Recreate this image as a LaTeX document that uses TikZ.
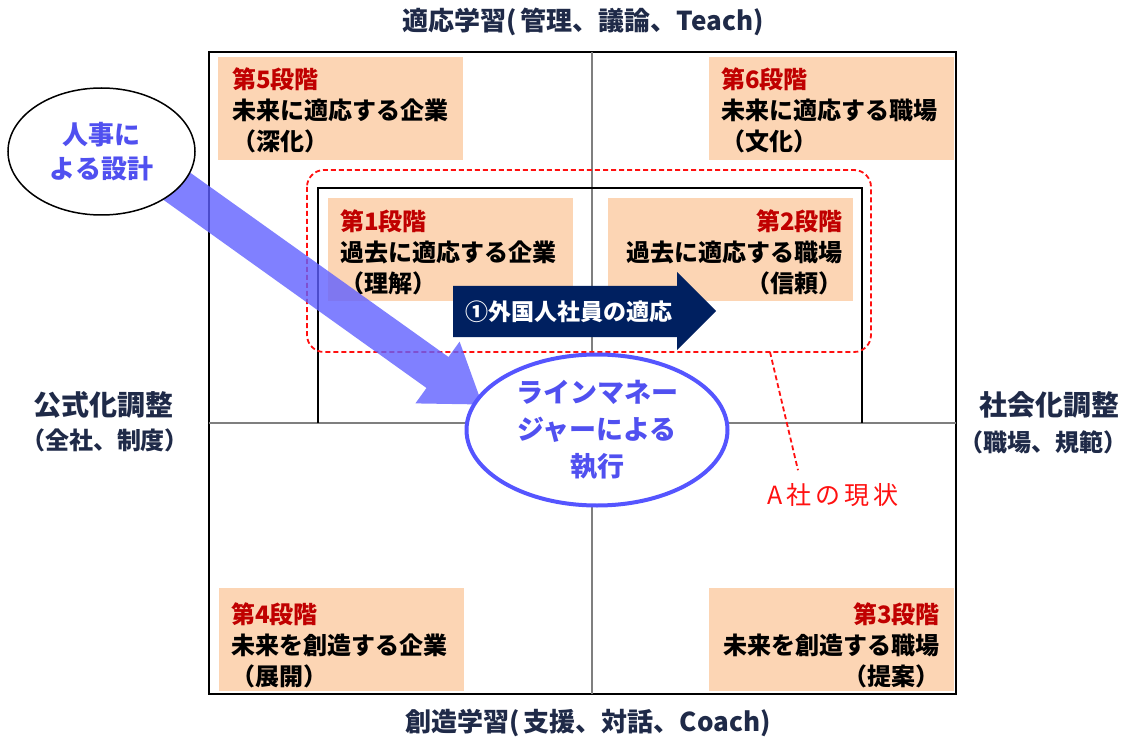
\documentclass[tikz,border=0pt]{standalone}
\usepackage{fontspec}
\setmainfont{Noto Sans CJK JP}
\usetikzlibrary{shapes.geometric,calc}
\definecolor{peach}{HTML}{FCD5B4}
\definecolor{stagered}{HTML}{C00000}
\definecolor{navyfill}{HTML}{002060}
\definecolor{arrowblue}{HTML}{6060FF}
\definecolor{ellblue}{HTML}{5555FF}
\definecolor{bluetext}{HTML}{5050F0}
\definecolor{labelnavy}{HTML}{1F2A48}
\definecolor{gridgray}{HTML}{7F7F7F}
\definecolor{dashred}{HTML}{FF1010}
\newcommand\myfs[2]{\fontsize{#1}{#2}\selectfont}
\newcommand\stg[1]{\textcolor{stagered}{#1}}
\begin{document}
\begin{tikzpicture}[x=1pt,y=-1pt,
  stagebox/.style={fill=peach, draw=none, anchor=north west, inner sep=0, minimum width=245, minimum height=103},
  stagetext/.style={inner sep=0, font=\bfseries\myfs{24}{31}, text=black},
  axislabel/.style={inner sep=0, text=labelnavy},
  reddash/.style={draw=dashred, line width=1.8, dash pattern=on 5pt off 3pt},
  ellipsenode/.style={ellipse, inner sep=0, fill=white, text=bluetext, align=center}]
\useasboundingbox (0,0) rectangle (1125,746);

% outer frame and cross
\draw[black, line width=2.5] (209,52) rectangle (956,694);
\draw[gridgray, line width=2] (592,52) -- (592,694);
\draw[gridgray, line width=2] (209,423) -- (956,423);

% stage boxes
\node[stagebox] (b5) at (218,57) {};
\node[stagebox] (b6) at (709,57) {};
\node[stagebox] (b1) at (328,198) {};
\node[stagebox] (b2) at (608,198) {};
\node[stagebox] (b4) at (219,588) {};
\node[stagebox] (b3) at (709,588) {};

\node[stagetext, anchor=west, align=left] (t5) at (232,110) {\stg{第5段階}\\未来に適応する企業\\（深化）};
\node[stagetext, anchor=west, align=left] (t6) at (721,110) {\stg{第6段階}\\未来に適応する職場\\（文化）};
\node[stagetext, anchor=west, align=left] (t1) at (340,252) {\stg{第1段階}\\過去に適応する企業\\（理解）};
\node[stagetext, anchor=east, align=right] (t2) at (843,252) {\stg{第2段階}\\過去に適応する職場\\（信頼）};
\node[stagetext, anchor=west, align=left] (t4) at (231,645) {\stg{第4段階}\\未来を創造する企業\\（展開）};
\node[stagetext, anchor=east, align=right] (t3) at (940,645) {\stg{第3段階}\\未来を創造する職場\\（提案）};

% inner rectangle and dashed region
\draw[black, line width=2.2] (318,423) -- (318,188) -- (862,188) -- (862,423);
\draw[reddash, rounded corners=17] (307,170) rectangle (871,352);

% navy arrow
\fill[navyfill] (453,286) -- (677,286) -- (677,272) -- (716,311) -- (677,350) -- (677,337) -- (453,337) -- cycle;
\node[inner sep=0, text=white, font=\bfseries\myfs{23}{28}] (nav) at (569,312) {①外国人社員の適応};

% blue arrow from e1 to e2
\fill[arrowblue, fill opacity=0.8] (117.5,167) -- (426.5,388) -- (415.4,403.4) -- (482.3,404.5) -- (459.6,341.6) -- (448.5,357) -- (139.5,136.5) -- cycle;

% ellipses
\node[ellipsenode, draw=black, line width=1.5, minimum width=187, minimum height=127, font=\bfseries\myfs{26}{34}] (e1) at (101.5,151.5) {人事に\\よる設計};
\node[ellipsenode, draw=ellblue, line width=4, minimum width=261, minimum height=151, font=\bfseries\myfs{27}{37}] (e2) at (597,430) {ラインマネー\\ジャーによる\\執行};

% current state label
\coordinate (lead) at (770,352);
\node[inner sep=3, text=dashred, font=\myfs{25}{30}] (cur) at (833,495) {A\kern4pt 社\kern4pt の\kern4pt 現\kern4pt 状};
\draw[reddash] (lead) -- ($(cur.north)+(-35,-10)$);

% axis labels
\node[axislabel, font=\bfseries\myfs{26}{30}] (ttop) at (583,22) {適応学習(\,管理、議論、Teach)};
\node[axislabel, font=\bfseries\myfs{26}{30}] (tbot) at (588,723) {創造学習(\,支援、対話、Coach)};
\node[axislabel, font=\bfseries\myfs{28}{32}] (lt1) at (104,405) {公式化調整};
\node[axislabel, font=\bfseries\myfs{24}{28}] (lt2) at (105,440) {（全社、制度）};
\node[axislabel, font=\bfseries\myfs{28}{32}] (rt1) at (1049,405) {社会化調整};
\node[axislabel, font=\bfseries\myfs{24}{28}] (rt2) at (1043,442) {（職場、規範）};
\end{tikzpicture}
\end{document}
